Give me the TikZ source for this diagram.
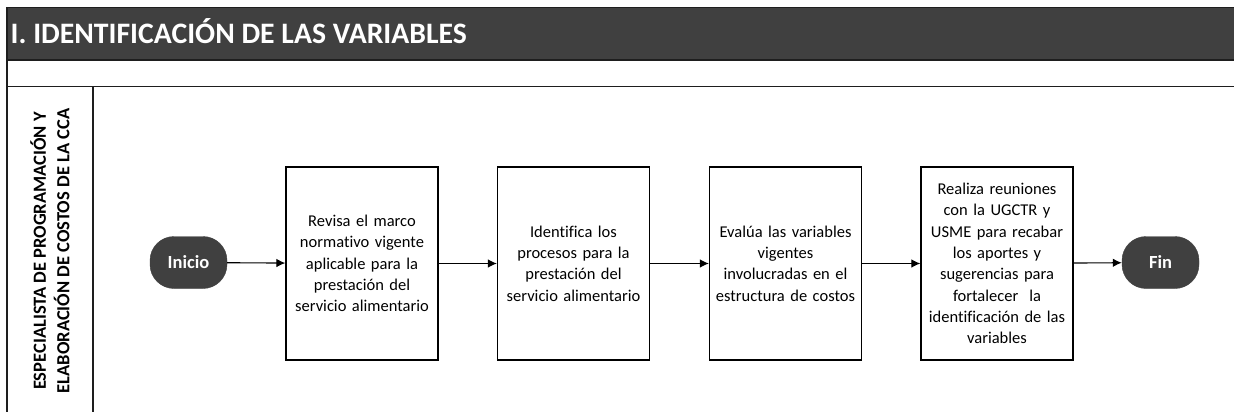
\documentclass[tikz,border=0pt]{standalone}
\usepackage{fontspec}
\setmainfont[Ligatures=NoCommon]{Carlito}
\usetikzlibrary{arrows.meta}
\definecolor{darkfill}{RGB}{64,64,64}
\definecolor{frameline}{RGB}{30,30,30}
\tikzset{
  stepbox/.style={draw=black, line width=1.2pt, minimum width=152pt, minimum height=193pt, align=center, text width=146pt, font=\fontsize{16.5}{21.3}\selectfont, inner sep=0pt},
  terminal/.style={fill=darkfill, draw=darkfill, rounded corners=24pt, minimum width=77pt, minimum height=52pt, text=white, font=\bfseries\fontsize{18.5}{20}\selectfont, inner sep=0pt},
  flow/.style={-{Latex[length=9pt,width=8.5pt]}, line width=1.1pt},
  frame/.style={draw=frameline, line width=1.6pt}
}
\begin{document}
\begin{tikzpicture}[x=1pt,y=-1pt]
\useasboundingbox (0,0) rectangle (1234,412);
% title bar
\fill[darkfill] (7,7.5) rectangle (1240,60);
\draw[frame] (7,7.5) -- (1240,7.5);
\draw[frame] (7,60) -- (1240,60);
\node[anchor=base west, text=white, font=\bfseries\fontsize{29.7}{34}\selectfont, inner sep=0pt] (title) at (10.5,43.3) {I. IDENTIFICACIÓN DE LAS VARIABLES};
% frame lines
\draw[frame] (7,7.5) -- (7,412);
\draw[frame] (7,86.5) -- (1240,86.5);
\draw[frame] (93,86.5) -- (93,412);
% lane label
\node[rotate=90, align=center, font=\bfseries\fontsize{18.5}{23.5}\selectfont, inner sep=0pt] (lane) at (50,251) {ESPECIALISTA DE PROGRAMACIÓN Y\\ELABORACIÓN DE COSTOS DE LA CCA};
% nodes
\node[terminal] (inicio) at (188.5,262.5) {Inicio};
\node[stepbox] (b1) at (362,263.5) {Revisa el marco\\normativo vigente\\aplicable para la\\prestación del\\servicio alimentario};
\node[stepbox] (b2) at (573.5,263.5) {Identifica los\\procesos para la\\prestación del\\servicio alimentario};
\node[stepbox] (b3) at (785.5,263.5) {Evalúa las variables\\vigentes\\involucradas en el\\estructura de costos};
\node[stepbox] (b4) at (997,263.5) {Realiza reuniones\\con la UGCTR y\\USME para recabar\\los aportes y\\sugerencias para\\fortalecer\ \ la\\identificación de las\\variables};
\node[terminal] (fin) at (1160.5,262.5) {Fin};
% connectors
\draw[flow] (inicio) -- (b1);
\draw[flow] (b1) -- (b2);
\draw[flow] (b2) -- (b3);
\draw[flow] (b3) -- (b4);
\draw[flow] (b4) -- (fin);
\end{tikzpicture}
\end{document}
